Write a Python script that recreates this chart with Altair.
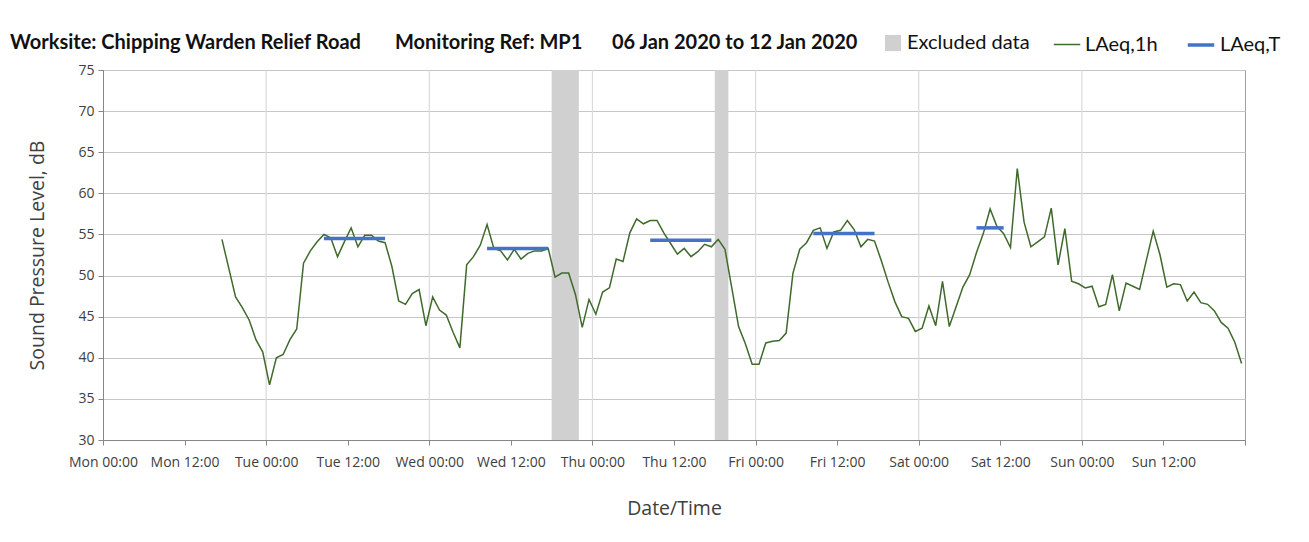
import altair as alt
import pandas as pd

# ---------------- data ----------------
# LAeq,1h: hourly values, first value plotted at Mon 06 Jan 2020 17:30
laeq_1h_first = "2020-01-06 17:30"
laeq_1h = [
    54.4, 50.9, 47.4, 46.1, 44.6, 42.2, 40.7, 36.7, 40.0, 40.4,
    42.2, 43.5, 51.5, 53.0, 54.1, 55.0, 54.6, 52.3, 54.1, 55.8,
    53.5, 54.9, 54.9, 54.2, 54.0, 51.1, 46.9, 46.5, 47.8, 48.3,
    43.9, 47.4, 45.8, 45.2, 43.1, 41.2, 51.3, 52.3, 53.7, 56.2,
    53.3, 53.0, 51.9, 53.2, 52.0, 52.7, 53.0, 53.0, 53.3, 49.8,
    50.3, 50.3, 47.7, 43.7, 47.1, 45.3, 48.0, 48.5, 52.0, 51.7,
    55.2, 56.9, 56.3, 56.7, 56.7, 55.2, 53.9, 52.6, 53.3, 52.3,
    52.9, 53.8, 53.5, 54.4, 53.2, 48.5, 43.8, 41.7, 39.2, 39.2,
    41.8, 42.0, 42.1, 43.0, 50.3, 53.2, 54.0, 55.5, 55.8, 53.3,
    55.3, 55.5, 56.7, 55.6, 53.5, 54.4, 54.2, 51.8, 49.2, 46.8,
    45.0, 44.8, 43.2, 43.6, 46.3, 43.9, 49.3, 43.8, 46.2, 48.6,
    50.1, 52.8, 55.1, 58.1, 56.0, 55.1, 53.4, 63.0, 56.5, 53.5,
    54.1, 54.7, 58.2, 51.3, 55.7, 49.3, 49.0, 48.5, 48.7, 46.2,
    46.5, 50.1, 45.7, 49.1, 48.7, 48.3, 51.9, 55.4, 52.5, 48.6,
    49.0, 48.9, 46.9, 48.0, 46.7, 46.5, 45.7, 44.3, 43.6, 41.9,
    39.3,
]

# LAeq,T periods
laeq_t_start = ["2020-01-07T08:30:00", "2020-01-08T08:30:00", "2020-01-09T08:30:00",
                "2020-01-10T08:30:00", "2020-01-11T08:30:00"]
laeq_t_end = ["2020-01-07T17:30:00", "2020-01-08T17:30:00", "2020-01-09T17:30:00",
              "2020-01-10T17:30:00", "2020-01-11T12:30:00"]
laeq_t = [54.5, 53.3, 54.3, 55.1, 55.8]

# Excluded data periods
excl_start = ["2020-01-08T18:00:00", "2020-01-09T18:00:00"]
excl_end = ["2020-01-08T22:00:00", "2020-01-09T20:00:00"]

# day boundaries (vertical gridlines)
day_lines = ["2020-01-07T00:00:00", "2020-01-08T00:00:00", "2020-01-09T00:00:00",
             "2020-01-10T00:00:00", "2020-01-11T00:00:00", "2020-01-12T00:00:00"]

y_ticks = [30, 35, 40, 45, 50, 55, 60, 65, 70, 75]

header_parts = ["Worksite: Chipping Warden Relief Road", "Monitoring Ref: MP1",
                "06 Jan 2020 to 12 Jan 2020"]

# ---------------- tables ----------------
times = pd.date_range(laeq_1h_first, periods=len(laeq_1h), freq="h").strftime("%Y-%m-%dT%H:%M:%S")
df_1h = pd.DataFrame({"t": list(times), "v": laeq_1h, "series": "LAeq,1h"})
df_t = pd.DataFrame({"start": laeq_t_start, "end": laeq_t_end, "v": laeq_t, "series": "LAeq,T"})
df_ex = pd.DataFrame({"start": excl_start, "end": excl_end, "series": "Excluded data"})
df_days = pd.DataFrame({"t": day_lines})

FONT = "Open Sans"
GREY_TXT = "#404040"

x_scale = alt.Scale(domain=[alt.DateTime(year=2020, month=1, date=6, hours=0),
                            alt.DateTime(year=2020, month=1, date=13, hours=0)])
x_vals = [alt.DateTime(year=2020, month=1, date=6 + i // 2, hours=12 * (i % 2)) for i in range(15)]
x_axis = alt.Axis(values=x_vals, grid=False, title="Date/Time",
                  labelExpr="date(datum.value) == 13 ? '' : timeFormat(datum.value, '%a %H:%M')",
                  labelAngle=0, labelPadding=10, titlePadding=30, tickSize=5,
                  labelOverlap=False, labelFlush=False)
y_scale = alt.Scale(domain=[30, 75], nice=False, zero=False)
y_axis = alt.Axis(values=y_ticks, title="Sound Pressure Level, dB", grid=True,
                  gridColor="#c6c6c6", gridWidth=1.2, tickSize=5, labelPadding=4,
                  titlePadding=30)

stroke_scale = alt.Scale(domain=["LAeq,1h", "LAeq,T"], range=["#3f6a2c", "#4472c4"])
sw_scale = alt.Scale(type="point", domain=["LAeq,1h", "LAeq,T"], range=[1.5, 3.5], padding=0)
line_legend = alt.Legend(title=None, orient="none", direction="horizontal", legendX=950, legendY=-40,
                         symbolType="stroke", symbolSize=700, labelFontSize=20, labelFont="Lato",
                         labelColor="#111111", columnPadding=22, labelOffset=4, padding=0)
fill_legend = alt.Legend(title=None, orient="none", direction="horizontal", legendX=780, legendY=-37,
                         symbolType="square", symbolSize=260, labelFontSize=20, labelFont="Lato",
                         labelColor="#111111", labelOffset=4, padding=0, symbolStrokeWidth=0)

grid = alt.Chart(df_days).mark_rule(color="#dadada", strokeWidth=1.2).encode(
    x=alt.X("t:T", scale=x_scale, axis=x_axis)
)

excluded = alt.Chart(df_ex).mark_rect().encode(
    x=alt.X("start:T", scale=x_scale, axis=x_axis),
    x2="end:T",
    fill=alt.Fill("series:N", scale=alt.Scale(domain=["Excluded data"], range=["#d0d0d0"]),
                  legend=fill_legend),
)

line_1h = alt.Chart(df_1h).mark_line().encode(
    x=alt.X("t:T", scale=x_scale, axis=x_axis),
    y=alt.Y("v:Q", scale=y_scale, axis=y_axis),
    stroke=alt.Stroke("series:N", scale=stroke_scale, legend=line_legend),
    strokeWidth=alt.StrokeWidth("series:N", scale=sw_scale, legend=line_legend),
)

line_t = alt.Chart(df_t).mark_rule().encode(
    x=alt.X("start:T", scale=x_scale, axis=x_axis),
    x2="end:T",
    y=alt.Y("v:Q", scale=y_scale, axis=y_axis),
    stroke=alt.Stroke("series:N", scale=stroke_scale, legend=line_legend),
    strokeWidth=alt.StrokeWidth("series:N", scale=sw_scale, legend=line_legend),
)

one = alt.Data(values=[{}])
hx = [-93, 292, 509]
header = [
    alt.Chart(one).mark_text(align="left", baseline="middle", font="Lato", fontSize=20,
                             fontWeight="bold", color="#111111").encode(
        x=alt.value(hx[i]), y=alt.value(-27), text=alt.value(header_parts[i]))
    for i in range(3)
]

chart = alt.layer(grid, excluded, line_1h, line_t, *header).properties(
    width=1142, height=370,
    autosize=alt.AutoSizeParams(type="none"),
    padding={"left": 95, "top": 62, "right": 50, "bottom": 90},
    background="white",
).configure_view(stroke="#a0a0a0", strokeWidth=1).configure_axis(
    labelFont=FONT, labelFontSize=14, labelColor=GREY_TXT, titleFont=FONT, titleFontSize=19.5,
    titleFontWeight="normal", titleColor=GREY_TXT, domainColor="#868686", tickColor="#868686",
).configure_legend(symbolStrokeWidth=0)

chart.save("out.html", embed_options={"renderer": "svg", "actions": False})
